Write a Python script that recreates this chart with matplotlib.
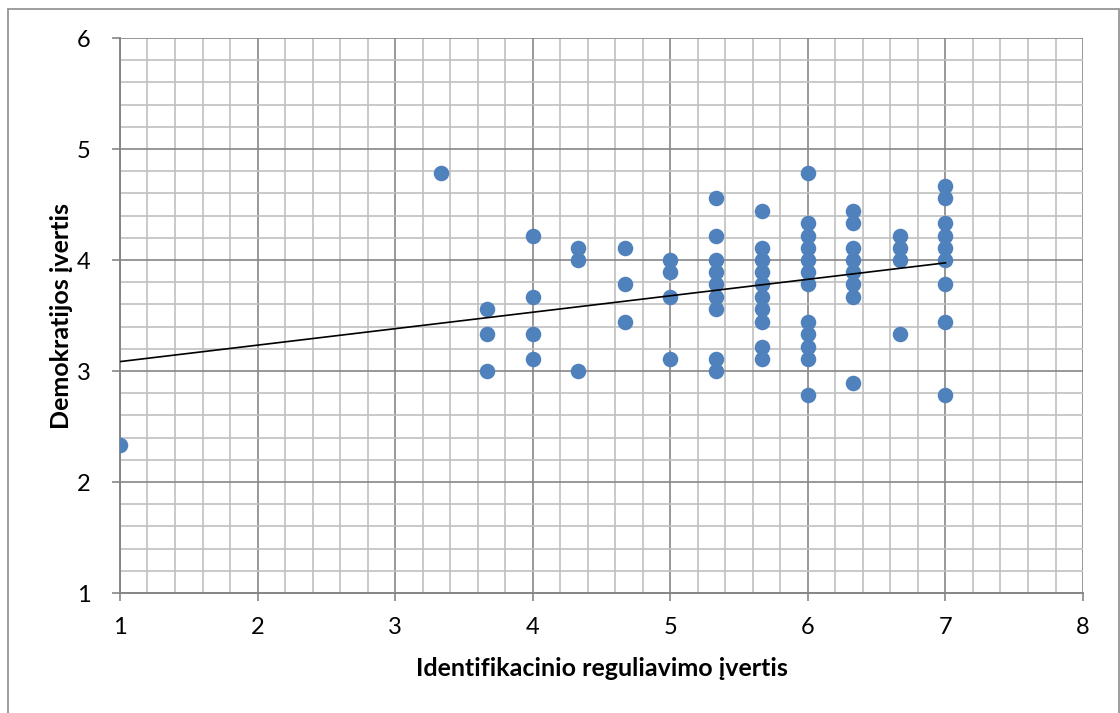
import numpy as np
import matplotlib
matplotlib.use("Agg")
import matplotlib.pyplot as plt
from matplotlib.ticker import MultipleLocator
from matplotlib.patches import Rectangle

# Scatter data, read column by column (x = identification score)
x_vals = ([1.0] + [3.33] + [3.67] * 3 + [4.0] * 4 + [4.33] * 3 + [4.67] * 3
          + [5.0] * 4 + [5.33] * 9 + [5.67] * 10 + [6.0] * 12 + [6.33] * 8
          + [6.67] * 4 + [7.0] * 9)
y_vals = [2.33,
          4.78,
          3.56, 3.33, 3.0,
          4.22, 3.67, 3.33, 3.11,
          4.11, 4.0, 3.0,
          4.11, 3.78, 3.44,
          4.0, 3.89, 3.67, 3.11,
          4.56, 4.22, 4.0, 3.89, 3.78, 3.67, 3.56, 3.11, 3.0,
          4.44, 4.11, 4.0, 3.89, 3.78, 3.67, 3.56, 3.44, 3.22, 3.11,
          4.78, 4.33, 4.22, 4.11, 4.0, 3.89, 3.78, 3.44, 3.33, 3.22, 3.11, 2.78,
          4.44, 4.33, 4.11, 4.0, 3.89, 3.78, 3.67, 2.89,
          4.22, 4.11, 4.0, 3.33,
          4.67, 4.56, 4.33, 4.22, 4.11, 4.0, 3.78, 3.44, 2.78]

x_label = "Identifikacinio reguliavimo įvertis"
y_label = "Demokratijos įvertis"

x = np.array(x_vals)
y = np.array(y_vals)

plt.rcParams['font.family'] = ['Lato', 'DejaVu Sans']

fig = plt.figure(figsize=(11.2, 7.13), dpi=100)
ax = fig.add_axes([0.1071, 0.1683, 0.8599, 0.7784])

# outer chart border
fig.patches.append(Rectangle((8 / 1120, -0.05), 1111 / 1120, 1 - 9 / 713 + 0.05,
                             transform=fig.transFigure, fill=False,
                             edgecolor='#8c8c8c', lw=1.2))

ax.set_xlim(1, 8)
ax.set_ylim(1, 6)
ax.xaxis.set_major_locator(MultipleLocator(1))
ax.yaxis.set_major_locator(MultipleLocator(1))
ax.xaxis.set_minor_locator(MultipleLocator(0.2))
ax.yaxis.set_minor_locator(MultipleLocator(0.2))

ax.grid(which='minor', color='#c0c0c0', lw=1.2, zorder=0)
ax.grid(which='major', color='#868686', lw=1.2, zorder=0.5)
ax.set_axisbelow(True)

for side in ['top', 'right']:
    ax.spines[side].set_visible(False)
for side in ['left', 'bottom']:
    ax.spines[side].set_color('#868686')
    ax.spines[side].set_linewidth(1.4)

ax.tick_params(which='major', direction='out', length=6, width=1.2,
               color='#868686', labelsize=17, pad=11)
ax.tick_params(axis='y', pad=15)
ax.tick_params(which='minor', length=0)

ax.scatter(x, y, s=125, color='#4F81BD', zorder=3, linewidths=0)

# linear trendline over data range
slope, intercept = np.polyfit(x, y, 1)
xt = np.array([x.min(), x.max()])
ax.plot(xt, intercept + slope * xt, color='black', lw=1.2, zorder=4)

ax.set_xlabel(x_label, fontsize=18, fontweight='bold', labelpad=14)
ax.set_ylabel(y_label, fontsize=18, fontweight='bold', labelpad=3)

fig.savefig('out.png', dpi=100)
